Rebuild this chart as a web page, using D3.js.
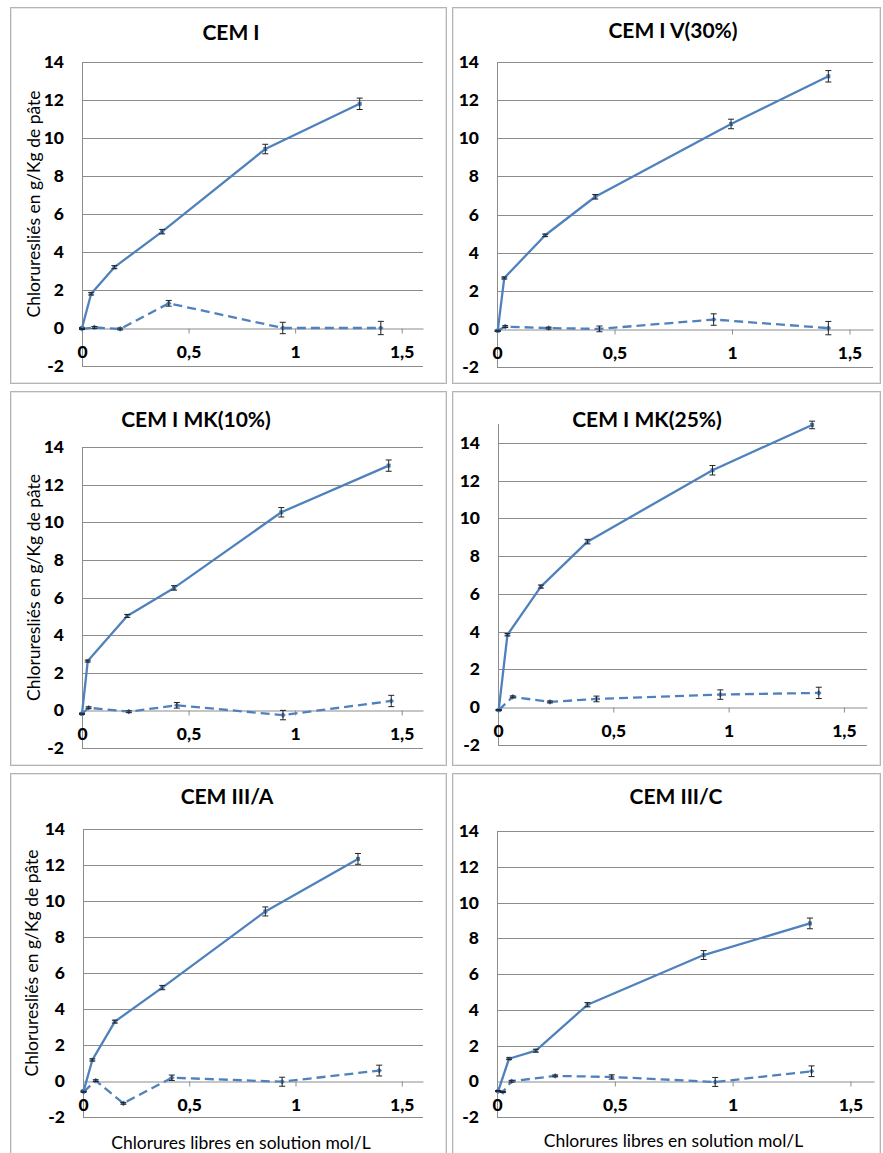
<!DOCTYPE html>
<html><head><meta charset="utf-8">
<script src="https://cdn.jsdelivr.net/npm/d3@7"></script>
<style>
html,body{margin:0;padding:0;background:#fff;}
svg{display:block;}
</style></head>
<body>
<svg id="c" width="883" height="1153"></svg>
<script>
// ---------- DATA ----------
const panelTitles = ["CEM I", "CEM I V(30%)", "CEM I MK(10%)", "CEM I MK(25%)", "CEM III/A", "CEM III/C"];
const yAxisTitle = "Chloruresliés en g/Kg de pâte";
const xAxisTitle = "Chlorures libres en solution mol/L";
const xTickValues = [0, 0.5, 1, 1.5];
const xTickLabels = ["0", "0,5", "1", "1,5"];
const yTickValues = [-2, 0, 2, 4, 6, 8, 10, 12, 14];
const yTickLabels = ["-2", "0", "2", "4", "6", "8", "10", "12", "14"];

// CEM I
const cemI_solidX = [0, 0.043, 0.152, 0.376, 0.86, 1.303];
const cemI_solidY = [0, 1.8, 3.2, 5.07, 9.42, 11.8];
const cemI_solidErr = [0.03, 0.06, 0.08, 0.12, 0.25, 0.3];
const cemI_dashX = [0, 0.058, 0.179, 0.407, 0.942, 1.402];
const cemI_dashY = [-0.05, 0.03, -0.05, 1.3, 0, 0];
const cemI_dashErr = [0.03, 0.05, 0.05, 0.15, 0.3, 0.35];
// CEM I V(30%)
const cemV30_solidX = [0.003, 0.031, 0.205, 0.418, 0.996, 1.41];
const cemV30_solidY = [-0.1, 2.67, 4.91, 6.93, 10.75, 13.25];
const cemV30_solidErr = [0.03, 0.05, 0.06, 0.12, 0.25, 0.3];
const cemV30_dashX = [0.003, 0.035, 0.22, 0.436, 0.922, 1.41];
const cemV30_dashY = [-0.1, 0.12, 0.04, 0, 0.49, 0.04];
const cemV30_dashErr = [0.03, 0.05, 0.05, 0.15, 0.3, 0.35];
// CEM I MK(10%)
const cemMK10_solidX = [0, 0.027, 0.212, 0.432, 0.935, 1.439];
const cemMK10_solidY = [-0.18, 2.62, 5.02, 6.51, 10.53, 13.01];
const cemMK10_solidErr = [0.03, 0.05, 0.08, 0.12, 0.25, 0.3];
const cemMK10_dashX = [0, 0.031, 0.22, 0.445, 0.943, 1.451];
const cemMK10_dashY = [-0.18, 0.14, -0.07, 0.27, -0.25, 0.5];
const cemMK10_dashErr = [0.03, 0.05, 0.05, 0.15, 0.25, 0.3];
// CEM I MK(25%)
const cemMK25_solidX = [0.003, 0.041, 0.186, 0.388, 0.93, 1.362];
const cemMK25_solidY = [-0.15, 3.84, 6.39, 8.77, 12.55, 14.95];
const cemMK25_solidErr = [0.03, 0.06, 0.08, 0.12, 0.25, 0.2];
const cemMK25_dashX = [0.003, 0.064, 0.225, 0.427, 0.964, 1.391];
const cemMK25_dashY = [-0.15, 0.55, 0.28, 0.44, 0.67, 0.76];
const cemMK25_dashErr = [0.03, 0.05, 0.05, 0.15, 0.25, 0.3];
// CEM III/A
const cemIIIA_solidX = [0.003, 0.044, 0.15, 0.373, 0.858, 1.294];
const cemIIIA_solidY = [-0.55, 1.17, 3.3, 5.19, 9.42, 12.34];
const cemIIIA_solidErr = [0.03, 0.06, 0.08, 0.12, 0.25, 0.3];
const cemIIIA_dashX = [0.003, 0.06, 0.19, 0.418, 0.937, 1.394];
const cemIIIA_dashY = [-0.6, 0.02, -1.24, 0.18, -0.04, 0.58];
const cemIIIA_dashErr = [0.03, 0.05, 0.05, 0.15, 0.25, 0.3];
// CEM III/C
const cemIIIC_solidX = [0.005, 0.051, 0.165, 0.384, 0.877, 1.328];
const cemIIIC_solidY = [-0.55, 1.26, 1.71, 4.28, 7.06, 8.83];
const cemIIIC_solidErr = [0.03, 0.05, 0.08, 0.12, 0.25, 0.3];
const cemIIIC_dashX = [0.005, 0.025, 0.062, 0.247, 0.487, 0.926, 1.335];
const cemIIIC_dashY = [-0.55, -0.6, 0.0, 0.3, 0.24, -0.04, 0.56];
const cemIIIC_dashErr = [0.03, 0.03, 0.05, 0.05, 0.12, 0.25, 0.3];

const xDomainMax = [1.6, 1.6, 1.6, 1.6, 1.6, 1.6];
const yDomainMax = [14, 14, 14, 15, 14, 14];

// ---------- LAYOUT (positions / styles) ----------
const FONT = "Lato, 'Open Sans', sans-serif";
const BLUE = "#4F81BD";
const GRID = "#8c8c8c";
const layout = [
  {frame:[10,7,446,383],   L:82,  R:423, T:62,  B:366, titleY:33,  yTitleX:34, yTitle:true,  xTitle:false},
  {frame:[452,7,880,383],  L:497, R:873, T:62,  B:367, titleY:31,  yTitle:false, xTitle:false},
  {frame:[10,391,446,765], L:82,  R:423, T:447, B:748, titleY:420, yTitleX:34, yTitle:true,  xTitle:false},
  {frame:[452,391,880,765],L:498, R:867, T:424, B:745, titleY:420, yTitle:false, xTitle:false},
  {frame:[10,773,446,1160],L:83,  R:423, T:829, B:1117,titleY:797, yTitleX:32, yTitle:true,  xTitle:true, xTitleY:1143},
  {frame:[452,773,880,1160],L:497,R:874, T:831, B:1117,titleY:797, yTitle:false, xTitle:true, xTitleY:1141}
];
const titleCenters = [231, 673, 196, 647, 227, 676];

const series = [
  [cemI_solidX, cemI_solidY, cemI_solidErr, cemI_dashX, cemI_dashY, cemI_dashErr],
  [cemV30_solidX, cemV30_solidY, cemV30_solidErr, cemV30_dashX, cemV30_dashY, cemV30_dashErr],
  [cemMK10_solidX, cemMK10_solidY, cemMK10_solidErr, cemMK10_dashX, cemMK10_dashY, cemMK10_dashErr],
  [cemMK25_solidX, cemMK25_solidY, cemMK25_solidErr, cemMK25_dashX, cemMK25_dashY, cemMK25_dashErr],
  [cemIIIA_solidX, cemIIIA_solidY, cemIIIA_solidErr, cemIIIA_dashX, cemIIIA_dashY, cemIIIA_dashErr],
  [cemIIIC_solidX, cemIIIC_solidY, cemIIIC_solidErr, cemIIIC_dashX, cemIIIC_dashY, cemIIIC_dashErr]
];

const svg = d3.select("#c");
svg.append("rect").attr("width",883).attr("height",1153).attr("fill","#fff");

layout.forEach((lay, i) => {
  const g = svg.append("g");
  const [fx0, fy0, fx1, fy1] = lay.frame;
  g.append("rect").attr("x", fx0+0.5).attr("y", fy0+0.5).attr("width", fx1-fx0).attr("height", fy1-fy0)
    .attr("fill","#fff").attr("stroke","#b4b4b4").attr("stroke-width",1);
  g.append("rect").attr("x", fx0+1.5).attr("y", fy0+1.5).attr("width", fx1-fx0-2).attr("height", fy1-fy0-2)
    .attr("fill","none").attr("stroke","#e6e6e6").attr("stroke-width",1);

  const x = d3.scaleLinear().domain([0, xDomainMax[i]]).range([lay.L, lay.R]);
  const y = d3.scaleLinear().domain([-2, yDomainMax[i]]).range([lay.B, lay.T]);

  // gridlines + y axis
  const yAxis = d3.axisLeft(y).tickValues(yTickValues).tickFormat((d,k)=>yTickLabels[k])
    .tickSize(-(lay.R - lay.L)).tickPadding(19);
  const ya = g.append("g").attr("transform", `translate(${lay.L},0)`).call(yAxis);
  ya.select(".domain").attr("stroke", GRID).attr("d", `M0.5,${y.range()[1]}V${lay.B+0.5}`);
  ya.selectAll(".tick line").attr("stroke", GRID).attr("stroke-width",1);
  ya.selectAll(".tick").attr("transform", d => `translate(0,${Math.round(y(d))+0.5})`);
  ya.selectAll(".tick text").attr("font-family", FONT).attr("font-weight","900")
    .attr("font-size","17.5px").attr("fill","#000").attr("x",-18);

  // x axis at y=0
  const xAxis = d3.axisBottom(x).tickValues(xTickValues).tickFormat((d,k)=>xTickLabels[k])
    .tickSize(5).tickSizeOuter(0).tickPadding(12);
  const xa = g.append("g").attr("transform", `translate(0,${Math.round(y(0))+0.5})`).call(xAxis);
  xa.select(".domain").attr("stroke", GRID);
  xa.selectAll(".tick line").attr("stroke", GRID);
  xa.selectAll(".tick text").attr("font-family", FONT).attr("font-weight","900")
    .attr("font-size","17.5px").attr("fill","#000");
  ya.selectAll(".tick").filter(d => d === 0).select("line").attr("stroke","none");

  // series
  const s = series[i];
  const sets = [
    {xs:s[0], ys:s[1], es:s[2], dash:null},
    {xs:s[3], ys:s[4], es:s[5], dash:"9,5"}
  ];
  sets.forEach(set => {
    const pts = set.xs.map((v,k) => [v, set.ys[k], set.es[k]]);
    const line = d3.line().x(d => x(d[0])).y(d => y(d[1]));
    g.append("path").datum(pts).attr("d", line).attr("fill","none")
      .attr("stroke", BLUE).attr("stroke-width", 2.3)
      .attr("stroke-dasharray", set.dash).attr("stroke-linejoin","round");
    g.selectAll(null).data(pts).enter().append("rect")
      .attr("x", d => x(d[0]) - 2).attr("y", d => y(d[1]) - 2)
      .attr("width", 4).attr("height", 4).attr("fill", BLUE)
      .attr("transform", d => set.dash ? `rotate(45,${x(d[0])},${y(d[1])})` : null);
    const eb = g.selectAll(null).data(pts).enter().append("g").attr("stroke","#222").attr("stroke-width",1);
    eb.append("line").attr("x1", d => x(d[0])).attr("x2", d => x(d[0]))
      .attr("y1", d => y(d[1]+d[2])).attr("y2", d => y(d[1]-d[2]));
    eb.append("line").attr("x1", d => x(d[0])-3).attr("x2", d => x(d[0])+3)
      .attr("y1", d => y(d[1]+d[2])).attr("y2", d => y(d[1]+d[2]));
    eb.append("line").attr("x1", d => x(d[0])-3).attr("x2", d => x(d[0])+3)
      .attr("y1", d => y(d[1]-d[2])).attr("y2", d => y(d[1]-d[2]));
  });

  // title
  g.append("text").attr("x", titleCenters[i]).attr("y", lay.titleY).attr("dy","0.35em")
    .attr("text-anchor","middle").attr("font-family", FONT).attr("font-weight","bold")
    .attr("font-size","21px").attr("fill","#000").text(panelTitles[i]);

  if (lay.yTitle) {
    const cy = (lay.T + lay.B)/2 - 10;
    g.append("text").attr("transform", `translate(${lay.yTitleX},${cy}) rotate(-90)`)
      .attr("dy","0.35em").attr("text-anchor","middle").attr("font-family", FONT)
      .attr("font-size","17.5px").attr("fill","#000").text(yAxisTitle);
  }
  if (lay.xTitle) {
    g.append("text").attr("x", (lay.L + lay.R)/2 - 12).attr("y", lay.xTitleY).attr("dy","0.35em")
      .attr("text-anchor","middle").attr("font-family", FONT)
      .attr("font-size","17.5px").attr("fill","#000").text(xAxisTitle);
  }
});
</script>
</body></html>
